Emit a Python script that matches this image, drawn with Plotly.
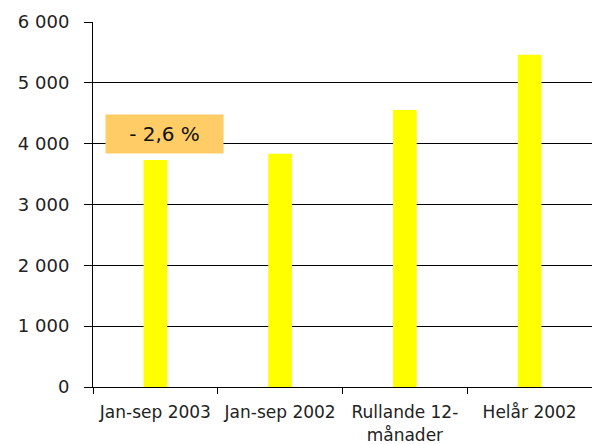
import plotly.graph_objects as go

categories = ["Jan-sep 2003", "Jan-sep 2002", "Rullande 12-<br>månader", "Helår 2002"]
values = [3730, 3835, 4555, 5460]
y_tickvals = [0, 1000, 2000, 3000, 4000, 5000, 6000]
y_ticktext = ["0", "1 000", "2 000", "3 000", "4 000", "5 000", "6 000"]
change_label = "- 2,6 %"

fig = go.Figure()
fig.add_trace(go.Bar(
    x=categories, y=values,
    marker=dict(color="#FFFF00", line=dict(width=0)),
    width=0.19,
    hoverinfo="skip",
))

fig.add_annotation(
    x=0.072, y=4160, xref="x", yref="y",
    text=change_label, showarrow=False,
    bgcolor="#FFCC66", width=113, height=34, borderpad=2,
    font=dict(family="DejaVu Sans", size=20, color="#111"),
    align="center", valign="middle",
)

fig.update_layout(
    width=592, height=444,
    margin=dict(l=93, r=0, t=22, b=57),
    paper_bgcolor="white", plot_bgcolor="white",
    showlegend=False,
    font=dict(family="DejaVu Sans", color="#222"),
    bargap=0.81,
)
fig.update_yaxes(
    range=[0, 6000], tickvals=y_tickvals, ticktext=y_ticktext,
    showgrid=True, gridcolor="black", gridwidth=1,
    showline=True, linecolor="black", linewidth=1,
    ticks="outside", ticklen=8, tickcolor="black",
    zeroline=False, ticklabelstandoff=11, automargin=False,
    tickfont=dict(family="DejaVu Sans", size=18, color="#222"),
)
fig.update_xaxes(
    type="category",
    showline=True, linecolor="black", linewidth=1,
    ticks="outside", tickson="boundaries", ticklen=6, tickcolor="black",
    showgrid=False, ticklabelstandoff=10, automargin=False,
    tickfont=dict(family="DejaVu Sans", size=17, color="#222"),
)

fig.write_html(
    "out.html",
    config={"displayModeBar": False},
    post_script="document.body.style.margin='0';document.body.style.overflow='hidden';",
)
